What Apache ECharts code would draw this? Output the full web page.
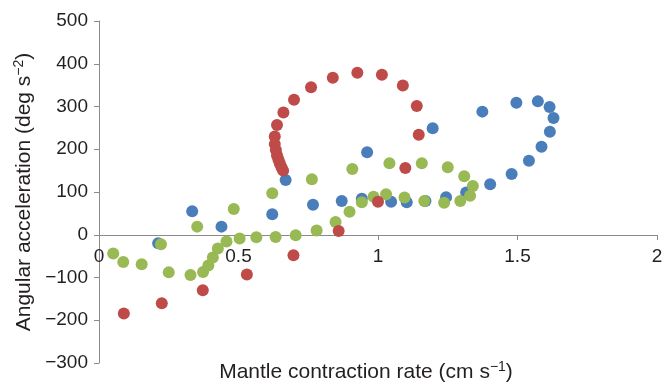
<!DOCTYPE html>
<html>
<head>
<meta charset="utf-8">
<script src="https://cdn.jsdelivr.net/npm/echarts/dist/echarts.min.js"></script>
<style>
  html, body { margin: 0; padding: 0; background: #fff; }
  #chart { width: 664px; height: 388px; }
</style>
</head>
<body>
<div id="chart"></div>
<script>
// [mantle contraction rate, angular acceleration]
const blueData = [
  [0.212, -20], [0.334, 55], [0.439, 19], [0.621, 48], [0.669, 128],
  [0.767, 70], [0.870, 79], [0.942, 84], [0.961, 193], [1.047, 77],
  [1.103, 76], [1.170, 79], [1.196, 249], [1.244, 88], [1.316, 99],
  [1.374, 288], [1.402, 118], [1.479, 142], [1.496, 309], [1.541, 173],
  [1.573, 312], [1.586, 206], [1.615, 299], [1.616, 241], [1.629, 273]
];
const greenData = [
  [0.051, -44], [0.087, -64], [0.153, -69], [0.222, -22], [0.250, -88],
  [0.328, -94], [0.352, 19], [0.373, -87], [0.392, -72], [0.408, -53],
  [0.426, -32], [0.457, -16], [0.483, 60], [0.504, -9], [0.564, -6],
  [0.621, 97], [0.633, -5], [0.705, -1], [0.763, 130], [0.780, 10],
  [0.848, 30], [0.898, 54], [0.908, 154], [0.942, 76], [0.984, 89],
  [1.029, 95], [1.041, 167], [1.095, 87], [1.157, 167], [1.166, 79],
  [1.237, 75], [1.250, 158], [1.295, 79], [1.309, 137], [1.330, 91],
  [1.340, 114]
];
const redData = [
  [0.089, -184], [0.225, -160], [0.372, -130], [0.530, -93], [0.697, -48],
  [0.859, 9], [1.000, 77], [1.098, 156], [1.146, 234], [1.139, 301],
  [1.089, 349], [1.014, 374], [0.926, 379], [0.838, 367], [0.760, 345],
  [0.699, 316], [0.661, 286], [0.638, 257], [0.630, 230], [0.630, 212],
  [0.634, 198], [0.638, 186], [0.643, 176], [0.648, 167], [0.654, 158],
  [0.660, 150]
];

const FONT = '"Liberation Sans", Arial, Helvetica, sans-serif';
const AXIS_COLOR = '#8a8a8a';
const TEXT_COLOR = '#231f20';

const chart = echarts.init(document.getElementById('chart'));

const supStyle = {
  fontSize: 14,
  fontFamily: FONT,
  color: TEXT_COLOR,
  padding: [0, 0, 10, 0]
};

// the x axis sits on y = 0: grid bottom 363, zero line at 234.75
const X_AXIS_OFFSET = -128;

chart.setOption({
  animation: false,
  grid: {
    left: 99, right: 7, top: 21, bottom: 25,
    containLabel: false, outerBoundsMode: 'none'
  },
  xAxis: {
    type: 'value',
    min: 0,
    max: 2,
    interval: 0.5,
    position: 'bottom',
    offset: X_AXIS_OFFSET,
    name: 'Mantle contraction rate (cm s{sup|\u22121})',
    nameLocation: 'middle',
    nameGap: 125,
    nameTextStyle: {
      fontSize: 21, fontFamily: FONT, color: TEXT_COLOR,
      padding: [0, 24, 0, 0],
      rich: { sup: supStyle }
    },
    axisLine: { onZero: false, lineStyle: { color: AXIS_COLOR, width: 1 } },
    axisTick: { show: true, length: 5, lineStyle: { color: AXIS_COLOR } },
    axisLabel: { fontSize: 19, fontFamily: FONT, color: TEXT_COLOR, margin: 12 },
    splitLine: { show: false }
  },
  yAxis: {
    type: 'value',
    min: -300,
    max: 500,
    interval: 100,
    name: 'Angular acceleration (deg s{sup|\u22122})',
    nameLocation: 'middle',
    nameGap: 53,
    nameTextStyle: {
      fontSize: 21, fontFamily: FONT, color: TEXT_COLOR,
      rich: { sup: supStyle }
    },
    axisLine: { show: true, onZero: false, lineStyle: { color: AXIS_COLOR, width: 1 } },
    axisTick: { show: true, length: 5, lineStyle: { color: AXIS_COLOR } },
    axisLabel: {
      fontSize: 19, fontFamily: FONT, color: TEXT_COLOR, margin: 11,
      formatter: function (value) {
        return value < 0 ? '\u2212' + Math.abs(value) : String(value);
      }
    },
    splitLine: { show: false }
  },
  series: [
    {
      type: 'scatter', data: blueData, symbolSize: 12,
      itemStyle: { color: '#4a7ebb', opacity: 1 }
    },
    {
      type: 'scatter', data: greenData, symbolSize: 12,
      itemStyle: { color: '#98b954', opacity: 1 }
    },
    {
      type: 'scatter', data: redData, symbolSize: 12,
      itemStyle: { color: '#be4b48', opacity: 1 }
    }
  ]
});
</script>
</body>
</html>
